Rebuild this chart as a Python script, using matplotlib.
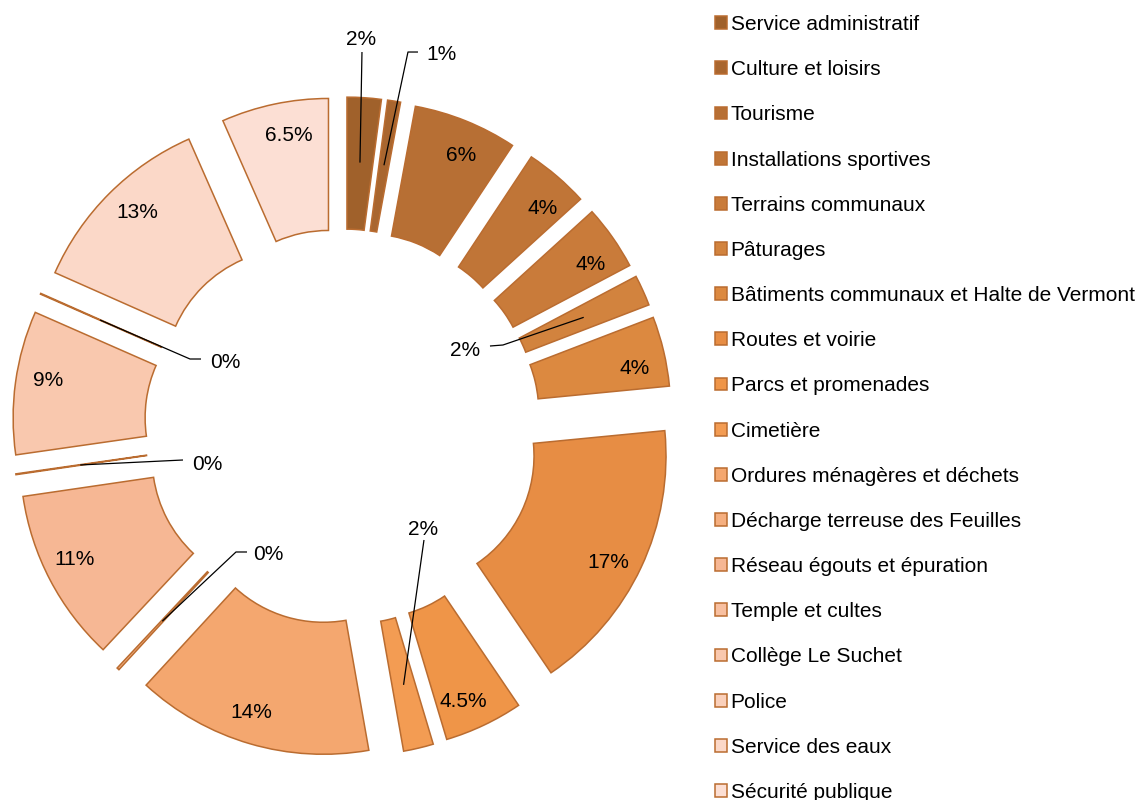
import matplotlib
matplotlib.use("Agg")
import matplotlib.pyplot as plt
import numpy as np

# ---------------- data ----------------
categories = [
    "Service administratif", "Culture et loisirs", "Tourisme",
    "Installations sportives", "Terrains communaux", "Pâturages",
    "Bâtiments communaux et Halte de Vermont", "Routes et voirie",
    "Parcs et promenades", "Cimetière", "Ordures ménagères et déchets",
    "Décharge terreuse des Feuilles", "Réseau égouts et épuration",
    "Temple et cultes", "Collège Le Suchet", "Police",
    "Service des eaux", "Sécurité publique",
]
# slice sizes (percent)
values = [2.1, 0.8, 6.4, 3.95, 4.0, 1.9, 4.3, 17.05, 4.85, 1.85, 14.6,
          0.15, 10.7, 0.05, 8.85, 0.05, 11.75, 6.6]
# data-label texts as printed on the chart
value_labels = ["2%", "1%", "6%", "4%", "4%", "2%", "4%", "17%", "4.5%", "2%",
                "14%", "0%", "11%", "0%", "9%", "0%", "13%", "6.5%"]

colors = [
    "#A0612B", "#A9662F", "#B76F34", "#C07537", "#C97B3A", "#D2833E",
    "#DC8940", "#E78D44", "#EF9548", "#F39C53", "#F4A76F", "#F5AF80",
    "#F6B794", "#F8C0A1", "#F9C8AE", "#FAD0BB", "#FBD8C8", "#FCDFD4",
]

# ---------------- style / layout ----------------
plt.rcParams['font.family'] = ['Liberation Sans', 'DejaVu Sans']
EDGE = "#BA6C30"
R, HOLE, D = 262, 130, 68          # outer radius, inner radius, explosion (data units = px)
R_IN_LABEL, R_ANCHOR, LABEL_ROT = 230, 197, 2.0
TEXT_DY = -2                       # optical vertical centring of digits
FS = 15

# manual placement of the small-slice labels: index -> (text xy, leader waypoints)
small_labels = {
    0: ((18.5, 390), [(19.5, 375)]),
    1: ((99.5, 375), [(65.5, 375), (75.5, 375)]),
    5: ((122.5, 79), [(160.5, 82), (147.5, 81)]),
    9: ((80.5, -101), [(81.5, -113)]),
    11: ((-74.5, -126), [(-106.5, -125), (-95.5, -125)]),
    13: ((-135.5, -36), [(-159.5, -33)]),
    15: ((-117.5, 67), [(-152.5, 68), (-141.5, 68)]),
}

fig = plt.figure(figsize=(11.46, 8), dpi=100)
ax = fig.add_axes([0, 0.038125, 0.5977, 0.85625])

wedges, _ = ax.pie(
    values, radius=R, explode=[D] * len(values), startangle=90,
    counterclock=False, colors=colors,
    wedgeprops=dict(width=R - HOLE, edgecolor=EDGE, linewidth=1.1),
)
ax.set_xlim(-342.5, 342.5)
ax.set_ylim(-342.5, 342.5)
ax.set_aspect('equal')
ax.axis('off')

for i, (w, txt) in enumerate(zip(wedges, value_labels)):
    tm_deg = (w.theta1 + w.theta2) / 2
    tm = np.deg2rad(tm_deg)
    cx, cy = w.center
    if i in small_labels:
        (tx, ty), pts = small_labels[i]
        sx, sy = cx + R_ANCHOR * np.cos(tm), cy + R_ANCHOR * np.sin(tm)
        xs = [sx] + [p[0] for p in pts]
        ys = [sy] + [p[1] for p in pts]
        ax.plot(xs, ys, color="black", lw=0.9, solid_capstyle='butt', clip_on=False)
        ax.text(tx, ty + TEXT_DY, txt, ha='center', va='center', fontsize=FS, clip_on=False)
    else:
        ta = np.deg2rad(tm_deg - LABEL_ROT)
        lx, ly = cx + R_IN_LABEL * np.cos(ta), cy + R_IN_LABEL * np.sin(ta)
        ax.text(lx, ly + TEXT_DY, txt, ha='center', va='center', fontsize=FS)

leg = fig.legend(
    wedges, categories, loc='upper left', bbox_to_anchor=(714.5 / 1146, 1 - 15 / 800),
    frameon=False, fontsize=FS, handlelength=0.58, handleheight=0.58,
    handletextpad=0.2, labelspacing=1.256, borderpad=0, borderaxespad=0,
)

fig.savefig("out.png", dpi=100)
